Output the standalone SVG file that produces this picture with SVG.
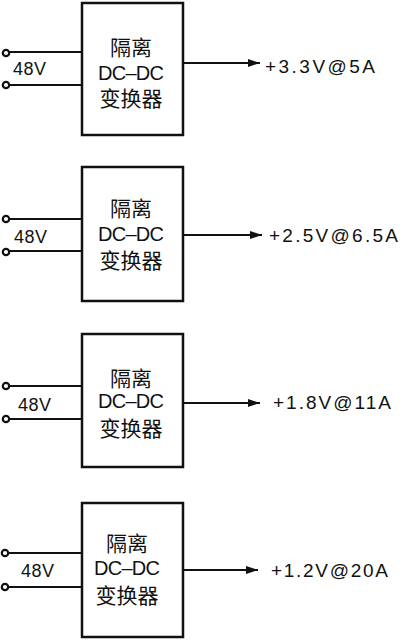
<svg xmlns="http://www.w3.org/2000/svg" width="400" height="642" viewBox="0 0 400 642">
<defs>
<style>
.box{fill:#fff;stroke:#111;stroke-width:2.5}
.w{stroke:#111;stroke-width:2;fill:none}
.t{fill:#fff;stroke:#111;stroke-width:2.2}
.cn{font-family:"Liberation Sans","Noto Sans CJK SC",sans-serif;font-size:21px;fill:#111;text-anchor:middle}
.dc{font-family:"Liberation Sans",sans-serif;font-size:20px;fill:#111;text-anchor:middle}
.v{font-family:"Liberation Sans",sans-serif;font-size:18px;fill:#111}
.o{font-family:"Liberation Sans",sans-serif;font-size:19px;fill:#111}
</style>
<marker id="arr" viewBox="0 0 12 10" refX="12" refY="5" markerWidth="6" markerHeight="5" orient="auto" markerUnits="strokeWidth">
<path d="M0,1 L12,5 L0,9 Z" fill="#111"/>
</marker>
</defs>
<rect width="400" height="642" fill="#fff"/>
<g id="connectors">
<line class="w" x1="8" y1="52" x2="83" y2="52"/>
<line class="w" x1="8" y1="85" x2="83" y2="85"/>
<line class="w" x1="183" y1="63" x2="260" y2="63" marker-end="url(#arr)"/>
<line class="w" x1="8" y1="219" x2="83" y2="219"/>
<line class="w" x1="8" y1="251" x2="83" y2="251"/>
<line class="w" x1="183" y1="235" x2="262" y2="235" marker-end="url(#arr)"/>
<line class="w" x1="8" y1="386" x2="83" y2="386"/>
<line class="w" x1="8" y1="419" x2="83" y2="419"/>
<line class="w" x1="183" y1="403" x2="260" y2="403" marker-end="url(#arr)"/>
<line class="w" x1="8" y1="553" x2="83" y2="553"/>
<line class="w" x1="8" y1="587" x2="83" y2="587"/>
<line class="w" x1="183" y1="570" x2="258" y2="570" marker-end="url(#arr)"/>
</g>
<g id="term1"><circle class="t" cx="6" cy="53" r="3.2"/><circle class="t" cx="6" cy="85" r="3.2"/><text class="v" x="13" y="75" textLength="33">48V</text></g>
<g id="term2"><circle class="t" cx="6" cy="219" r="3.2"/><circle class="t" cx="6" cy="252" r="3.2"/><text class="v" x="14" y="243" textLength="33">48V</text></g>
<g id="term3"><circle class="t" cx="6" cy="386" r="3.2"/><circle class="t" cx="6" cy="419" r="3.2"/><text class="v" x="18" y="411" textLength="33">48V</text></g>
<g id="term4"><circle class="t" cx="5" cy="553" r="3.2"/><circle class="t" cx="5" cy="587" r="3.2"/><text class="v" x="21" y="577" textLength="33">48V</text></g>
<g id="node1">
<rect class="box" x="82" y="3" width="101" height="132"/>
<text class="cn" x="131" y="55">隔离</text>
<text class="dc" x="131" y="80" textLength="66">DC–DC</text>
<text class="cn" x="131" y="106">变换器</text>
</g>
<g id="node2">
<rect class="box" x="82" y="167" width="101" height="134"/>
<text class="cn" x="131" y="216">隔离</text>
<text class="dc" x="131" y="241" textLength="66">DC–DC</text>
<text class="cn" x="131" y="268">变换器</text>
</g>
<g id="node3">
<rect class="box" x="82" y="334" width="101" height="133"/>
<text class="cn" x="131" y="386">隔离</text>
<text class="dc" x="131" y="408" textLength="66">DC–DC</text>
<text class="cn" x="131" y="436">变换器</text>
</g>
<g id="node4">
<rect class="box" x="82" y="503" width="101" height="134"/>
<text class="cn" x="127" y="551">隔离</text>
<text class="dc" x="127" y="575" textLength="66">DC–DC</text>
<text class="cn" x="127" y="603">变换器</text>
</g>
<g id="outputs">
<text class="o" x="265" y="73" textLength="110" lengthAdjust="spacing">+3.3V@5A</text>
<text class="o" x="269" y="242" textLength="129" lengthAdjust="spacing">+2.5V@6.5A</text>
<text class="o" x="273" y="409" textLength="118" lengthAdjust="spacing">+1.8V@11A</text>
<text class="o" x="271" y="577" textLength="117" lengthAdjust="spacing">+1.2V@20A</text>
</g>
</svg>
